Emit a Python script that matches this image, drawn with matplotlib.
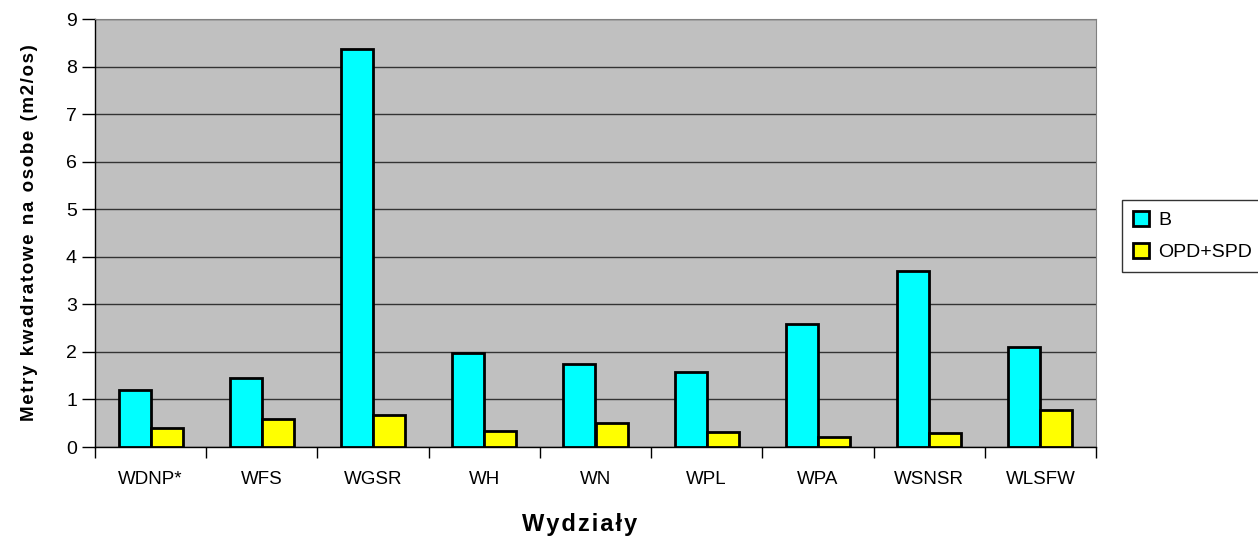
import numpy as np
import matplotlib.pyplot as plt

plt.rcParams['font.family'] = ['Liberation Sans', 'DejaVu Sans']

# Data
wydzialy = ['WDNP*', 'WFS', 'WGSR', 'WH', 'WN', 'WPL', 'WPA', 'WSNSR', 'WLSFW']
b_vals = [1.20, 1.46, 8.37, 1.97, 1.75, 1.58, 2.58, 3.70, 2.11]
opd_spd_vals = [0.40, 0.59, 0.68, 0.34, 0.50, 0.31, 0.21, 0.29, 0.78]

fig = plt.figure(figsize=(12.58, 5.41), dpi=100)
ax = fig.add_axes([95 / 1258, 94 / 541, 1001 / 1258, 428 / 541])
ax.set_facecolor('#C0C0C0')

x = np.arange(len(wydzialy))
w = 0.288
ax.bar(x - w / 2, b_vals, w, color='#00FFFF', edgecolor='black', linewidth=2, label='B', zorder=3)
ax.bar(x + w / 2, opd_spd_vals, w, color='#FFFF00', edgecolor='black', linewidth=2, label='OPD+SPD', zorder=3)

ax.set_xlim(-0.5, len(wydzialy) - 0.5)
ax.set_ylim(0, 9)
ax.set_yticks(range(10))
ax.yaxis.grid(True, color='#333333', linewidth=1, zorder=1)

ax.set_xticks(x)
ax.set_xticklabels(wydzialy, fontsize=13.5)
ax.tick_params(axis='x', which='major', length=0, pad=17)
ax.set_xticks(np.arange(-0.5, len(wydzialy)), minor=True)
ax.tick_params(axis='x', which='minor', length=8, width=1, direction='out')
ax.tick_params(axis='y', labelsize=14, length=9.5, width=1, pad=3.5)

for side in ['top', 'right']:
    ax.spines[side].set_color('#808080')
ax.spines['left'].set_linewidth(1)
ax.spines['bottom'].set_linewidth(1)

# letter-spaced axis titles, like the original
ax.set_xlabel('\u200a'.join('Wydziały'), fontsize=17, fontweight='bold')
ax.xaxis.set_label_coords(580 / 1258, 1 - 525 / 541, transform=fig.transFigure)
ax.xaxis.label.set_va('center')
ax.set_ylabel('M e t r y   k w a d r a t o w e   n a   o s o b e   ( m 2 / o s )'.replace('   ', '\u2002').replace(' ', '\u200a'),
              fontsize=13.5, fontweight='bold', labelpad=20)

leg = fig.legend(loc='upper left', bbox_to_anchor=(1122 / 1258, 1 - 200 / 541), fontsize=14, frameon=True,
                 fancybox=False, edgecolor='black', handlelength=0.85, handleheight=0.85,
                 handletextpad=0.45, borderpad=0.55, labelspacing=0.7, borderaxespad=0)
leg.get_frame().set_linewidth(1)

fig.savefig('out.png', dpi=100)
